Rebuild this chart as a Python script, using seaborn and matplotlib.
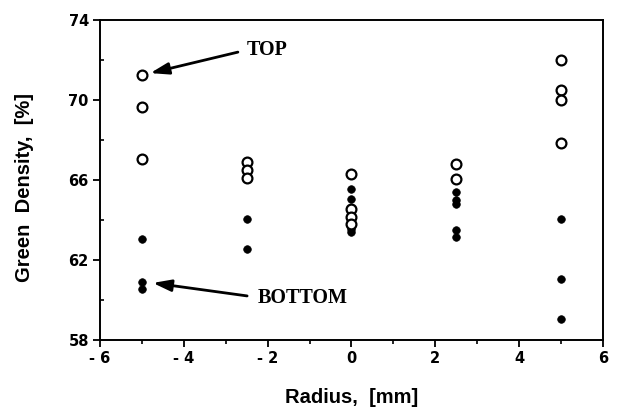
import matplotlib
matplotlib.use("Agg")
import matplotlib.pyplot as plt
import seaborn as sns
import pandas as pd
from matplotlib.ticker import MultipleLocator

# Data
top_radius = [-5, -5, -5, -2.5, -2.5, -2.5, 0, 0, 0, 0, 2.5, 2.5, 5, 5, 5, 5]
top_density = [71.25, 69.65, 67.05, 66.9, 66.5, 66.1, 66.3, 64.55, 64.15, 63.8,
               66.8, 66.05, 72.0, 70.5, 70.0, 67.85]
bottom_radius = [-5, -5, -5, -2.5, -2.5, 0, 0, 0, 0, 2.5, 2.5, 2.5, 2.5, 2.5, 5, 5, 5]
bottom_density = [63.05, 60.9, 60.55, 64.05, 62.55, 65.55, 65.05, 63.55, 63.4,
                  65.4, 65.0, 64.8, 63.5, 63.15, 64.05, 61.05, 59.05]
x_ticks = [-6, -4, -2, 0, 2, 4, 6]
y_ticks = [58, 62, 66, 70, 74]

df_top = pd.DataFrame({"Radius": top_radius, "Density": top_density})
df_bot = pd.DataFrame({"Radius": bottom_radius, "Density": bottom_density})

sns.set_style("ticks")
plt.rcParams["font.family"] = ["Liberation Sans", "DejaVu Sans"]
for k in ["text.color", "axes.labelcolor", "xtick.color", "ytick.color", "axes.edgecolor"]:
    plt.rcParams[k] = "black"

fig = plt.figure(figsize=(6.21, 4.11), dpi=100)
ax = fig.add_axes([0.161, 0.173, 0.81, 0.778])

sns.scatterplot(data=df_bot, x="Radius", y="Density", ax=ax, color="black",
                edgecolor="black", s=30, linewidth=0.5, zorder=3)
sns.scatterplot(data=df_top, x="Radius", y="Density", ax=ax, facecolor="white",
                edgecolor="black", s=50, linewidth=1.6, zorder=4)

ax.set_xlim(-6, 6)
ax.set_ylim(58, 74)
ax.set_xticks(x_ticks)
ax.set_yticks(y_ticks)
ax.set_xticklabels([f"- {abs(v)}" if v < 0 else str(v) for v in x_ticks],
                   fontweight="bold", fontsize=10.5, family="DejaVu Sans")
ax.set_yticklabels([str(v) for v in y_ticks], fontweight="bold", fontsize=10.5,
                   family="DejaVu Sans")
ax.xaxis.set_minor_locator(MultipleLocator(1))
ax.yaxis.set_minor_locator(MultipleLocator(2))
ax.tick_params(axis="both", which="major", direction="out", length=5, width=1.3,
               color="black", pad=3)
ax.tick_params(axis="x", which="minor", direction="out", length=3, width=1.2)
ax.tick_params(axis="y", which="minor", direction="in", length=3, width=1.2)
for sp in ax.spines.values():
    sp.set_visible(True)
    sp.set_linewidth(1.4)
    sp.set_color("black")

ax.set_xlabel("Radius,  [mm]", fontweight="bold", fontsize=14.5, va="center")
ax.set_ylabel("Green  Density,  [%]", fontweight="bold", fontsize=14.5, va="center")
ax.xaxis.set_label_coords(0.5, -0.181)
ax.yaxis.set_label_coords(-0.151, 0.478)

arrow = dict(arrowstyle="-|>,head_length=1.1,head_width=0.35",
             color="black", lw=2, shrinkA=0, shrinkB=0)
ax.annotate("", xy=(-4.8, 71.35), xytext=(-2.71, 72.4), arrowprops=arrow)
ax.annotate("", xy=(-4.74, 60.85), xytext=(-2.49, 60.2), arrowprops=arrow)
ax.text(-2.49, 72.5, "TOP", fontsize=14.5, fontweight="bold",
        family="Liberation Serif", va="center", ha="left")
ax.text(-2.23, 60.1, "BOTTOM", fontsize=14.5, fontweight="bold",
        family="Liberation Serif", va="center", ha="left")

fig.savefig("out.png", dpi=100)
